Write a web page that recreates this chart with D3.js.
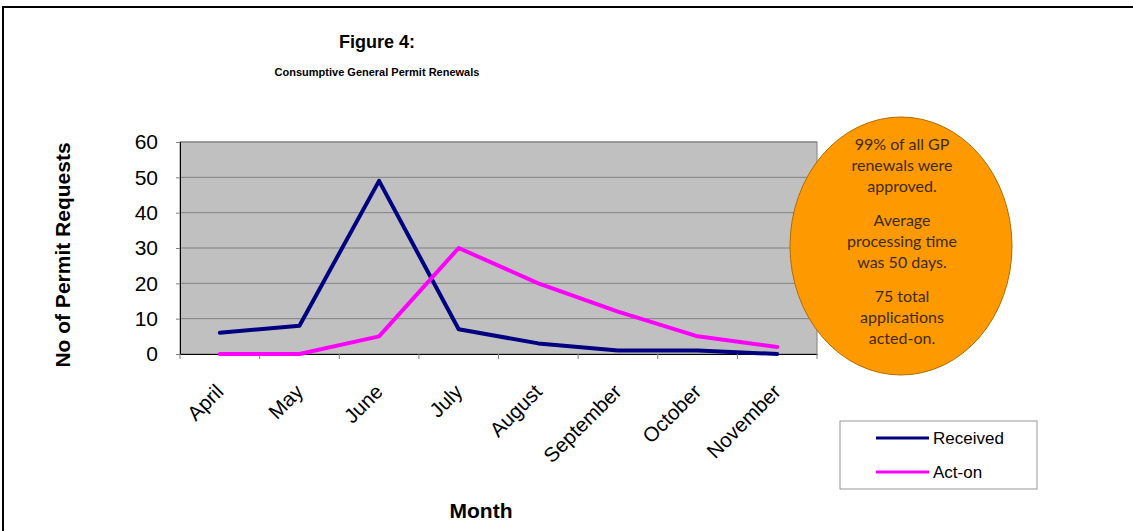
<!DOCTYPE html>
<html>
<head>
<meta charset="utf-8">
<script src="https://cdn.jsdelivr.net/npm/d3@7"></script>
<style>
body { margin: 0; background: white; }
svg { display: block; font-family: "Liberation Sans", Arial, sans-serif; }
</style>
</head>
<body>
<div id="chart"></div>
<script>
// -- data
var months = ["April", "May", "June", "July", "August", "September", "October", "November"];
var received = [6, 8, 49, 7, 3, 1, 1, 0];
var acton = [0, 0, 5, 30, 20, 12, 5, 2];
var yTicks = [0, 10, 20, 30, 40, 50, 60];
var noteLines = [
	["99% of all GP", "renewals were", "approved."],
	["Average", "processing time", "was 50 days."],
	["75 total", "applications", "acted-on."]
];

var series = [
	{ name: "Received", values: received, color: "#000080" },
	{ name: "Act-on", values: acton, color: "#FF00FF" }
];

var W = 1133, H = 531;
var plot = { left: 180, right: 817, top: 142, bottom: 354 };

var svg = d3.select("#chart").append("svg")
	.attr("width", W)
	.attr("height", H);

// outer frame
svg.append("rect")
	.attr("x", 3).attr("y", 7)
	.attr("width", W + 10).attr("height", H + 10)
	.attr("fill", "white")
	.attr("stroke", "black")
	.attr("stroke-width", 2);

// titles
svg.append("text")
	.attr("x", 377).attr("y", 48)
	.attr("text-anchor", "middle")
	.style("font-weight", "bold").style("font-size", "18px")
	.text("Figure 4:");
svg.append("text")
	.attr("x", 377).attr("y", 76)
	.attr("text-anchor", "middle")
	.style("font-weight", "bold").style("font-size", "11px")
	.text("Consumptive General Permit Renewals");

// scales
var x = d3.scaleBand()
	.domain(months)
	.range([plot.left, plot.right]);
var y = d3.scaleLinear()
	.domain([0, 60])
	.range([plot.bottom, plot.top]);

// plot area
svg.append("rect")
	.attr("x", plot.left).attr("y", plot.top)
	.attr("width", plot.right - plot.left)
	.attr("height", plot.bottom - plot.top)
	.attr("fill", "#C0C0C0")
	.attr("stroke", "#808080")
	.attr("stroke-width", 1);

// gridlines
svg.append("g")
	.selectAll("line")
	.data(yTicks.slice(1))
	.enter()
	.append("line")
	.attr("x1", plot.left).attr("x2", plot.right)
	.attr("y1", d => y(d)).attr("y2", d => y(d))
	.attr("stroke", "#808080")
	.attr("stroke-width", 1);

// y axis
var yAxis = svg.append("g")
	.attr("transform", "translate(" + plot.left + ",0)")
	.call(d3.axisLeft(y).tickValues(yTicks).tickSize(4).tickPadding(18));
yAxis.select(".domain").attr("stroke", "black");
yAxis.selectAll("line").attr("stroke", "#808080");
yAxis.selectAll("text")
	.style("font-size", "21px")
	.attr("fill", "black")
	.style("font-family", "Liberation Sans, Arial, sans-serif");

// x axis
var xAxis = svg.append("g")
	.attr("transform", "translate(0," + plot.bottom + ")")
	.call(d3.axisBottom(x).tickSize(0).tickFormat(""));
xAxis.select(".domain").attr("stroke", "black");

svg.append("g")
	.selectAll("line")
	.data(months.map(m => x(m)).concat([plot.right]))
	.enter()
	.append("line")
	.attr("x1", d => d).attr("x2", d => d)
	.attr("y1", plot.bottom).attr("y2", plot.bottom + 5)
	.attr("stroke", "#808080");

svg.append("g")
	.selectAll("text")
	.data(months)
	.enter()
	.append("text")
	.attr("transform", d => "translate(" + (x(d) + x.bandwidth() / 2 + 5) + "," + (plot.bottom + 39) + ") rotate(-45)")
	.attr("text-anchor", "end")
	.style("font-size", "20.5px")
	.text(d => d);

// axis titles
svg.append("text")
	.attr("transform", "translate(70,255) rotate(-90)")
	.attr("text-anchor", "middle")
	.style("font-weight", "bold").style("font-size", "21px")
	.text("No of Permit Requests");
svg.append("text")
	.attr("x", 481).attr("y", 518)
	.attr("text-anchor", "middle")
	.style("font-weight", "bold").style("font-size", "21px")
	.text("Month");

// lines
var line = d3.line()
	.x((d, i) => x(months[i]) + x.bandwidth() / 2)
	.y(d => y(d));

svg.append("g")
	.selectAll("path")
	.data(series)
	.enter()
	.append("path")
	.attr("fill", "none")
	.attr("stroke", d => d.color)
	.attr("stroke-width", 4)
	.attr("stroke-linejoin", "round")
	.attr("stroke-linecap", "round")
	.attr("d", d => line(d.values));

// note bubble
svg.append("ellipse")
	.attr("cx", 901).attr("cy", 246)
	.attr("rx", 111).attr("ry", 129)
	.attr("fill", "#FF9900")
	.attr("stroke", "#B36B00")
	.attr("stroke-width", 1);

var note = svg.append("g")
	.attr("text-anchor", "middle")
	.style("font-family", "Lato, 'Open Sans', sans-serif")
	.style("font-size", "16px")
	.attr("fill", "#3d2c12");
var lineY = 150;
noteLines.forEach(function(block) {
	block.forEach(function(t) {
		note.append("text").attr("x", 902).attr("y", lineY).text(t);
		lineY += 21;
	});
	lineY += 13;
});

// legend
var legend = svg.append("g");
legend.append("rect")
	.attr("x", 840).attr("y", 421)
	.attr("width", 197).attr("height", 68)
	.attr("fill", "white")
	.attr("stroke", "#999")
	.attr("stroke-width", 1);
series.forEach(function(s, i) {
	var ly = 438 + i * 34;
	legend.append("line")
		.attr("x1", 876).attr("x2", 929)
		.attr("y1", ly).attr("y2", ly)
		.attr("stroke", s.color)
		.attr("stroke-width", 3);
	legend.append("text")
		.attr("x", 933).attr("y", ly + 6)
		.style("font-size", "17px")
		.text(s.name);
});
</script>
</body>
</html>
